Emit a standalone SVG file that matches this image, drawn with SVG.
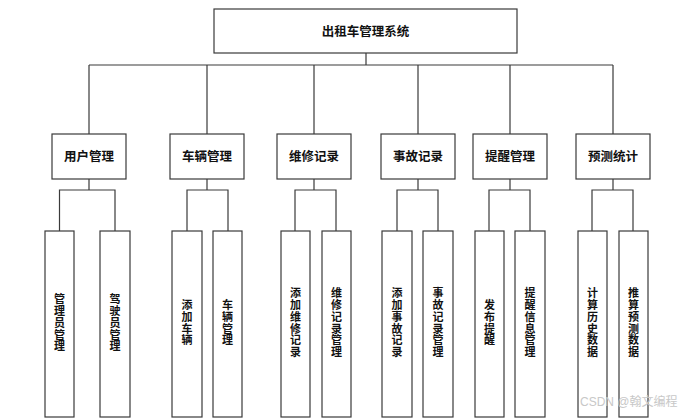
<svg xmlns="http://www.w3.org/2000/svg" width="684" height="419" viewBox="0 0 684 419">
<style>
.box{fill:#fff;stroke:#3a3a3a;stroke-width:1.2}
.ln{fill:none;stroke:#3a3a3a;stroke-width:1.2}
.t{font-family:"Noto Sans CJK SC","Noto Sans CJK JP",serif;font-weight:bold;font-size:12.5px;fill:#111;text-anchor:middle}
.v{font-family:"Noto Sans CJK SC","Noto Sans CJK JP",serif;font-weight:bold;font-size:11px;letter-spacing:0.8px;fill:#111;text-anchor:middle;writing-mode:vertical-rl}
.wm{font-family:"Liberation Sans","Noto Sans CJK SC",sans-serif;font-size:12px;fill:#c8c8c8}
</style>
<rect width="684" height="419" fill="#fff"/>
<g id="connectors">
<path class="ln" d="M366,53V65M89,65H613M89,65V134M207,65V134M314,65V134M418,65V134M510,65V134M613,65V134"/>
<path class="ln" d="M89,179V190M59.5,231V190H115V231"/>
<path class="ln" d="M207,179V190M187,231V190H228V231"/>
<path class="ln" d="M314,179V190M295,231V190H336V231"/>
<path class="ln" d="M418,179V190M397,231V190H438V231"/>
<path class="ln" d="M510,179V190M489,231V190H530V231"/>
<path class="ln" d="M613,179V190M592,231V190H633V231"/>
</g>
<g id="root"><rect class="box" x="214" y="9" width="303" height="44"/><text class="t" x="365.5" y="35.5">出租车管理系统</text></g>
<g id="n1"><rect class="box" x="52" y="134" width="74" height="45"/><text class="t" x="89" y="161">用户管理</text></g>
<g id="n2"><rect class="box" x="170" y="134" width="74" height="45"/><text class="t" x="207" y="161">车辆管理</text></g>
<g id="n3"><rect class="box" x="277" y="134" width="74" height="45"/><text class="t" x="314" y="161">维修记录</text></g>
<g id="n4"><rect class="box" x="381" y="134" width="74" height="45"/><text class="t" x="418" y="161">事故记录</text></g>
<g id="n5"><rect class="box" x="473" y="134" width="74" height="45"/><text class="t" x="510" y="161">提醒管理</text></g>
<g id="n6"><rect class="box" x="576" y="134" width="74" height="45"/><text class="t" x="613" y="161">预测统计</text></g>

<g id="c1"><rect class="box" x="45" y="231" width="29" height="186"/><text class="v" x="59.5" y="323">管理员管理</text></g>
<g id="c2"><rect class="box" x="100" y="231" width="30" height="186"/><text class="v" x="115" y="323">驾驶员管理</text></g>
<g id="c3"><rect class="box" x="172" y="231" width="30" height="186"/><text class="v" x="187" y="323">添加车辆</text></g>
<g id="c4"><rect class="box" x="213" y="231" width="29" height="186"/><text class="v" x="227.5" y="323">车辆管理</text></g>
<g id="c5"><rect class="box" x="281" y="231" width="29" height="186"/><text class="v" x="295.5" y="323">添加维修记录</text></g>
<g id="c6"><rect class="box" x="322" y="231" width="29" height="186"/><text class="v" x="336.5" y="323">维修记录管理</text></g>
<g id="c7"><rect class="box" x="382" y="231" width="30" height="186"/><text class="v" x="397" y="323">添加事故记录</text></g>
<g id="c8"><rect class="box" x="423" y="231" width="30" height="186"/><text class="v" x="438" y="323">事故记录管理</text></g>
<g id="c9"><rect class="box" x="475" y="231" width="29" height="186"/><text class="v" x="489.5" y="323">发布提醒</text></g>
<g id="c10"><rect class="box" x="515" y="231" width="30" height="186"/><text class="v" x="530" y="323">提醒信息管理</text></g>
<g id="c11"><rect class="box" x="578" y="231" width="29" height="186"/><text class="v" x="592.5" y="323">计算历史数据</text></g>
<g id="c12"><rect class="box" x="619" y="231" width="29" height="186"/><text class="v" x="633.5" y="323">推算预测数据</text></g>
<text class="wm" x="580" y="406">CSDN @翰文编程</text>
</svg>
